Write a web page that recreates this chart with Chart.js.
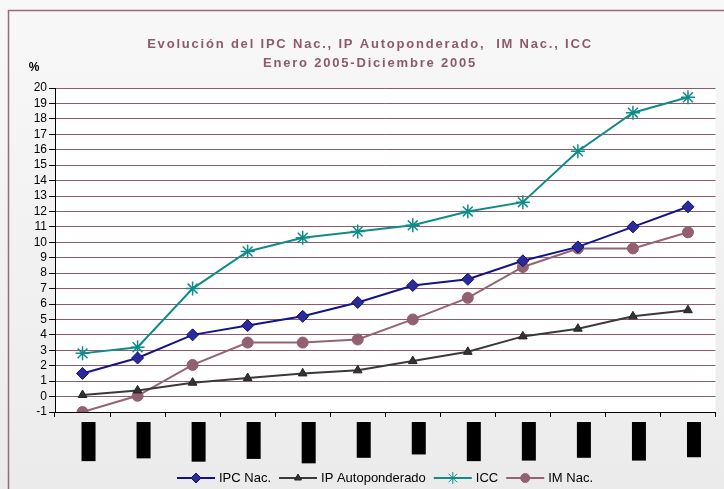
<!DOCTYPE html>
<html>
<head>
<meta charset="utf-8">
<script src="https://cdn.jsdelivr.net/npm/chart.js@4"></script>
<style>
  body { margin: 0; background: #fff; }
  #wrap { width: 724px; height: 489px; }
</style>
</head>
<body>
<div id="wrap"><canvas id="myChart" width="724" height="489"></canvas></div>
<script>
var meses = ['ene-05', 'feb-05', 'mar-05', 'abr-05', 'may-05', 'jun-05',
             'jul-05', 'ago-05', 'sep-05', 'oct-05', 'nov-05', 'dic-05'];
var ipcNac = [1.5, 2.5, 4.0, 4.6, 5.2, 6.1, 7.2, 7.6, 8.8, 9.7, 11.0, 12.3];
var ipAuto = [0.1, 0.4, 0.9, 1.2, 1.5, 1.7, 2.3, 2.9, 3.9, 4.4, 5.2, 5.6];
var icc    = [2.8, 3.2, 7.0, 9.4, 10.3, 10.7, 11.1, 12.0, 12.6, 15.9, 18.4, 19.4];
var imNac  = [-1.0, 0.05, 2.05, 3.5, 3.5, 3.7, 5.0, 6.4, 8.4, 9.6, 9.6, 10.65];
var titulo = ['Evolución del IPC Nac., IP Autoponderado,  IM Nac., ICC', 'Enero 2005-Diciembre 2005'];

var fuente = '"Liberation Sans", Arial, sans-serif';

// fondo gris, borde y area blanca
var fondo = {
  id: 'fondo',
  beforeDraw: function (chart) {
    var c = chart.ctx, a = chart.chartArea;
    c.save();
    var g = c.createLinearGradient(0, 0, 0, 489);
    g.addColorStop(0, '#f8f8f8');
    g.addColorStop(1, '#ebebeb');
    c.fillStyle = g;
    c.fillRect(0, 0, 724, 489);
    c.strokeStyle = '#9a6a7a';
    c.lineWidth = 1.5;
    c.strokeRect(8.5, 10.5, 730, 490);
    c.fillStyle = '#ffffff';
    c.fillRect(a.left, a.top, a.right - a.left, a.bottom - a.top);
    // titulo
    c.fillStyle = '#8c5a6c';
    c.font = 'bold 13px ' + fuente;
    c.letterSpacing = '1.8px';
    c.textAlign = 'center';
    c.textBaseline = 'middle';
    c.fillText(titulo[0], 370, 44);
    c.fillText(titulo[1], 370, 63);
    c.letterSpacing = '0px';
    c.fillStyle = '#000';
    c.font = 'bold 12px ' + fuente;
    c.fillText('%', 34, 68);
    c.restore();
  }
};

// leyenda con linea y marcador
var leyenda = {
  id: 'leyenda',
  afterDraw: function (chart) {
    var c = chart.ctx;
    var ds = chart.data.datasets;
    var lineLen = 38, gap = 4, sep = 8;
    c.save();
    c.font = '13px ' + fuente;
    var total = 0;
    ds.forEach(function (d) { total += lineLen + gap + c.measureText(d.label).width + sep; });
    var x = 389 - total / 2, y = 478;
    ds.forEach(function (d) {
      c.strokeStyle = d.borderColor;
      c.lineWidth = 2;
      c.beginPath();
      c.moveTo(x, y);
      c.lineTo(x + lineLen, y);
      c.stroke();
      c.fillStyle = d.pointBackgroundColor;
      c.strokeStyle = d.pointBorderColor;
      c.lineWidth = 1;
      Chart.helpers.drawPoint(c, {pointStyle: d.pointStyle, radius: d.pointRadius - 1, borderWidth: 1.2, rotation: 0}, x + lineLen / 2, y);
      c.fillStyle = '#000';
      c.textAlign = 'left';
      c.textBaseline = 'middle';
      c.fillText(d.label, x + lineLen + gap, y);
      x += lineLen + gap + c.measureText(d.label).width + sep;
    });
    c.restore();
  }
};

var ctx = document.getElementById('myChart').getContext('2d');
var myChart = new Chart(ctx, {
  type: 'line',
  data: {
    labels: meses,
    datasets: [{
      label: 'IPC Nac.',
      data: ipcNac,
      borderColor: '#14148a',
      borderWidth: 2,
      pointStyle: 'rectRot',
      pointRadius: 6,
      pointBackgroundColor: '#2a2a9a',
      pointBorderColor: '#101070',
      pointBorderWidth: 1
    }, {
      label: 'IP Autoponderado',
      data: ipAuto,
      borderColor: '#3a3a3a',
      borderWidth: 2,
      pointStyle: 'triangle',
      pointRadius: 5,
      pointBackgroundColor: '#333333',
      pointBorderColor: '#222222',
      pointBorderWidth: 1
    }, {
      label: 'ICC',
      data: icc,
      borderColor: '#0f8c8a',
      borderWidth: 2,
      pointStyle: 'star',
      pointRadius: 7,
      pointBackgroundColor: '#0f8c8a',
      pointBorderColor: '#0f8c8a',
      pointBorderWidth: 1.5
    }, {
      label: 'IM Nac.',
      data: imNac,
      borderColor: '#946474',
      borderWidth: 2,
      pointStyle: 'circle',
      pointRadius: 5.5,
      pointBackgroundColor: '#93606f',
      pointBorderColor: '#93606f',
      pointBorderWidth: 1
    }]
  },
  options: {
    responsive: false,
    animation: false,
    layout: { padding: { left: 10, right: 6, top: 88, bottom: 22 } },
    plugins: {
      legend: { display: false },
      title: { display: false },
      tooltip: { enabled: false }
    },
    scales: {
      x: {
        offset: true,
        afterFit: function (s) { s.height = 55; },
        grid: { offset: true, drawOnChartArea: false, color: '#000', tickLength: 5 },
        border: { color: '#000', width: 1 },
        ticks: {
          autoSkip: false,
          minRotation: 90,
          maxRotation: 90,
          padding: 9,
          color: '#000',
          font: { family: fuente, size: 10 },
          showLabelBackdrop: true,
          backdropColor: '#000',
          backdropPadding: { x: 4, y: 1 }
        }
      },
      y: {
        min: -1,
        max: 20,
        afterFit: function (s) { s.width = 45; },
        grid: { color: '#8c5a6e', lineWidth: 1, tickLength: 6, tickColor: '#000' },
        border: { color: '#000', width: 1 },
        ticks: {
          stepSize: 1,
          autoSkip: false,
          padding: 2,
          color: '#000',
          font: { family: fuente, size: 12 }
        }
      }
    }
  },
  plugins: [fondo, leyenda]
});
</script>
</body>
</html>
